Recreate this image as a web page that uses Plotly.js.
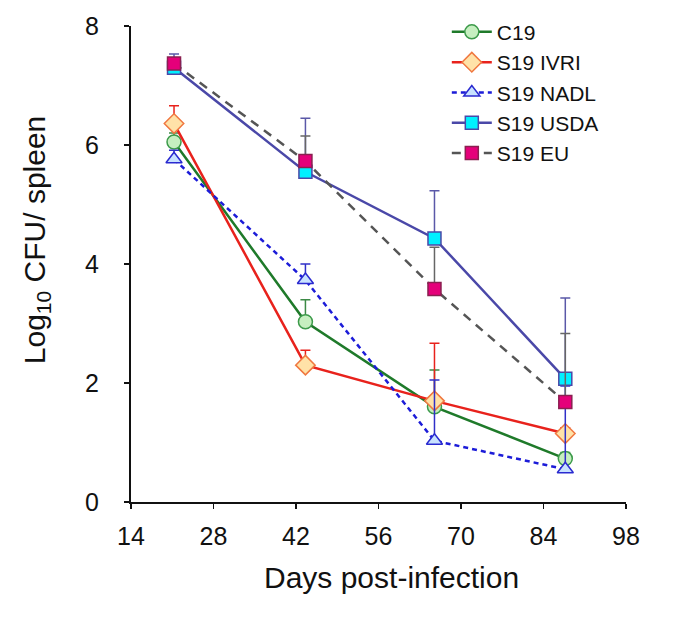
<!DOCTYPE html>
<html><head><meta charset="utf-8">
<script src="https://cdn.plot.ly/plotly-3.0.1.min.js"></script>
<style>html,body{margin:0;padding:0;background:#fff}#chart{width:685px;height:639px}</style>
</head><body><div id="chart"></div>
<script>
const days = [21.3, 43.6, 65.5, 87.7];
const seriesNames = ['C19', 'S19 IVRI', 'S19 NADL', 'S19 USDA', 'S19 EU'];
const c19 = [6.05, 3.03, 1.60, 0.73];
const c19Err = [0.15, 0.37, 0.62, 0.10];
const ivri = [6.36, 2.30, 1.70, 1.15];
const ivriErr = [0.30, 0.25, 0.97, 0.10];
const nadl = [5.76, 3.73, 1.03, 0.55];
const nadlErr = [0.15, 0.27, 1.02, 1.40];
const usda = [7.30, 5.55, 4.43, 2.07];
const usdaErr = [0.23, 0.90, 0.80, 1.36];
const eu = [7.37, 5.73, 3.58, 1.68];
const euErr = [0.05, 0.42, 0.70, 1.15];
const xTicks = [14, 28, 42, 56, 70, 84, 98];
const yTicks = [0, 2, 4, 6, 8];

function tr(name, y, err, lineColor, dash, sym, fill, edge, size, errColor) {
  return {
    x: days, y: y, name: name, type: 'scatter', mode: 'lines+markers',
    line: {color: lineColor, width: 2.5, dash: dash},
    marker: {symbol: sym, size: size, color: fill, line: {color: edge, width: 1.5}},
    error_y: {type: 'data', symmetric: false, array: err, arrayminus: err.map(() => 0),
      color: errColor, thickness: 1.5, width: 5}
  };
}
const data = [
  tr(seriesNames[0], c19, c19Err, '#1f7a2a', 'solid', 'circle', '#c6efc0', '#3c9a4a', 14, '#3c8a46'),
  tr(seriesNames[1], ivri, ivriErr, '#e8221c', 'solid', 'diamond', '#ffe2a8', '#f07840', 15, '#e8221c'),
  tr(seriesNames[2], nadl, nadlErr, '#1c1cd8', '5px,4px', 'triangle-up', '#c8e2ff', '#2a2ad0', 14, '#3030c8'),
  tr(seriesNames[3], usda, usdaErr, '#4a48a8', 'solid', 'square', '#00f0ff', '#4a48a8', 13, '#5a58a8'),
  tr(seriesNames[4], eu, euErr, '#555555', '9px,7px', 'square', '#e5007a', '#8a2050', 13, '#666666')
];
const layout = {
  width: 685, height: 639,
  margin: {l: 131, r: 59, t: 22, b: 137},
  paper_bgcolor: '#fff', plot_bgcolor: '#fff',
  font: {family: 'Liberation Sans, Arial, sans-serif', color: '#111'},
  showlegend: true,
  legend: {x: 0.638, xanchor: 'left', y: 1.03, yanchor: 'top', font: {size: 21, color: '#111'},
    bgcolor: 'rgba(0,0,0,0)', tracegroupgap: 0, itemwidth: 40},
  xaxis: {range: [14, 98], tickmode: 'array', tickvals: xTicks, ticktext: xTicks.map(String),
    showgrid: false, zeroline: false, showline: true, linecolor: '#111', linewidth: 2,
    ticks: 'outside', ticklen: 5, tickwidth: 1.5, tickcolor: '#111',
    tickfont: {size: 25}, ticklabelstandoff: 6},
  yaxis: {range: [0, 8], tickmode: 'array', tickvals: yTicks, ticktext: yTicks.map(String),
    showgrid: false, zeroline: false, showline: true, linecolor: '#111', linewidth: 2,
    ticks: 'outside', ticklen: 5, tickwidth: 1.5, tickcolor: '#111',
    tickfont: {size: 25}, ticklabelstandoff: 20},
  annotations: [
    {text: 'Log<sub>10</sub> CFU/ spleen', textangle: -90, xref: 'paper', yref: 'paper',
      x: 0, y: 0.55, xanchor: 'center', yanchor: 'middle', xshift: -95, showarrow: false,
      font: {size: 30, color: '#111'}},
    {text: 'Days post-infection', xref: 'paper', yref: 'paper',
      x: 0.527, y: -0.158, xanchor: 'center', yanchor: 'middle', showarrow: false,
      font: {size: 30, color: '#111'}}
  ]
};
Plotly.newPlot('chart', data, layout, {displayModeBar: false, staticPlot: true});
</script></body></html>
